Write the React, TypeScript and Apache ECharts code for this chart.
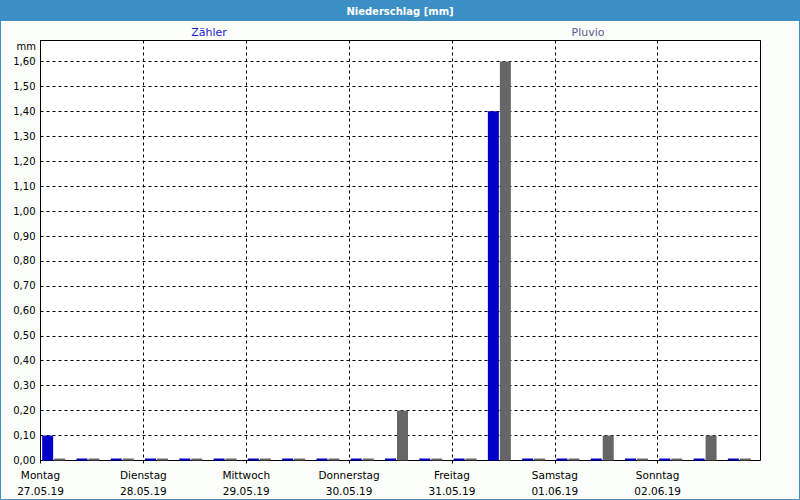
import React, { useEffect, useRef } from "react";
import * as echarts from "echarts";

const days = ["Montag", "Dienstag", "Mittwoch", "Donnerstag", "Freitag", "Samstag", "Sonntag"];
const dates = ["27.05.19", "28.05.19", "29.05.19", "30.05.19", "31.05.19", "01.06.19", "02.06.19"];
// 3 slots per day (21 slots)
const slots = Array.from({ length: 21 }, (_, i) => `S${i}`);
const zaehler = [0.1, 0, 0, 0, 0, 0, 0, 0, 0, 0, 0, 0, 0, 1.4, 0, 0, 0, 0, 0, 0, 0];
const pluvio = [0, 0, 0, 0, 0, 0, 0, 0, 0, 0, 0.2, 0, 0, 1.6, 0, 0, 0.1, 0, 0, 0.1, 0];
const empty = slots.map(() => null);

const FONT = "'DejaVu Sans', Tahoma, sans-serif";
const BLUE_FRAME = "#3b8fc4";

export default function App() {
  const ref = useRef<HTMLDivElement>(null);
  useEffect(() => {
    document.body.style.margin = "0";
    const chart = echarts.init(ref.current!, null, { renderer: "svg" });
    chart.setOption({
      animation: false,
      backgroundColor: "#fcfefc",
      textStyle: { fontFamily: FONT },
      graphic: [
        { type: "rect", z: 0, shape: { x: 0, y: 0, width: 800, height: 21 }, style: { fill: BLUE_FRAME } },
        { type: "rect", z: 0, shape: { x: 0.5, y: 0.5, width: 799, height: 499 }, style: { fill: "none", stroke: BLUE_FRAME, lineWidth: 1 } },
        { type: "text", z: 1, x: 400, y: 11, style: { text: "Niederschlag [mm]", fill: "#ffffff", font: `bold 10px ${FONT}`, align: "center", verticalAlign: "middle" } },
        { type: "text", z: 1, x: 209, y: 32, style: { text: "Zähler", fill: "#2020d8", font: `11px ${FONT}`, align: "center", verticalAlign: "middle" } },
        { type: "text", z: 1, x: 588, y: 32, style: { text: "Pluvio", fill: "#5a5a8a", font: `11px ${FONT}`, align: "center", verticalAlign: "middle" } },
        { type: "text", z: 1, x: 36, y: 46, style: { text: "mm", fill: "#000", font: `10px ${FONT}`, align: "right", verticalAlign: "middle" } },
      ],
      grid: {
        left: 40.5, right: 39.5, top: 40.5, bottom: 39.5,
        show: true, borderColor: "#000", borderWidth: 1, backgroundColor: "#ffffff",
      },
      xAxis: [
        {
          type: "category", data: slots, position: "bottom",
          axisLine: { show: false }, axisTick: { show: false }, axisLabel: { show: false }, splitLine: { show: false },
        },
        {
          type: "value", min: 0, max: 7, interval: 1, position: "bottom",
          axisLine: { show: false },
          axisTick: { show: true, length: 3, inside: false, lineStyle: { color: "#000" } },
          splitLine: { show: true, lineStyle: { color: "#000", type: [3, 3], width: 1 } },
          axisLabel: {
            margin: 6, color: "#000", fontSize: 10.5, lineHeight: 16, fontFamily: FONT,
            showMaxLabel: false,
            formatter: (v: number) => (v < 7 ? `${days[v]}\n${dates[v]}` : ""),
          },
        },
      ],
      yAxis: {
        type: "value", min: 0, max: 1.684, interval: 0.1,
        axisLine: { show: false }, axisTick: { show: false },
        splitLine: { show: true, lineStyle: { color: "#000", type: [3, 3], width: 1 } },
        axisLabel: {
          margin: 5, color: "#000", fontSize: 10, fontFamily: FONT,
          showMaxLabel: false,
          formatter: (v: number) => (v > 1.65 ? "" : v.toFixed(2).replace(".", ",")),
        },
      },
      series: [
        {
          name: "Zähler", type: "bar", xAxisIndex: 0, data: zaehler,
          barWidth: 11, barGap: "9%", barCategoryGap: "0%", barMinHeight: 2,
          itemStyle: { color: "#0000c8" },
        },
        {
          name: "Pluvio", type: "bar", xAxisIndex: 0, data: pluvio,
          barWidth: 11, barGap: "9%", barCategoryGap: "0%", barMinHeight: 2,
          itemStyle: {
            color: "#666666",
            decal: { symbol: "rect", symbolSize: 0.2, color: "#444444", backgroundColor: "#666666", dashArrayX: [1, 6], dashArrayY: [2, 6] },
          },
        },
        {
          name: "spacer", type: "bar", xAxisIndex: 0, data: empty,
          barWidth: 7, barGap: "9%", barCategoryGap: "0%",
          itemStyle: { color: "transparent" },
        },
      ],
    });
    return () => chart.dispose();
  }, []);
  return <div ref={ref} style={{ position: "fixed", left: 0, top: 0, width: 800, height: 500 }} />;
}
